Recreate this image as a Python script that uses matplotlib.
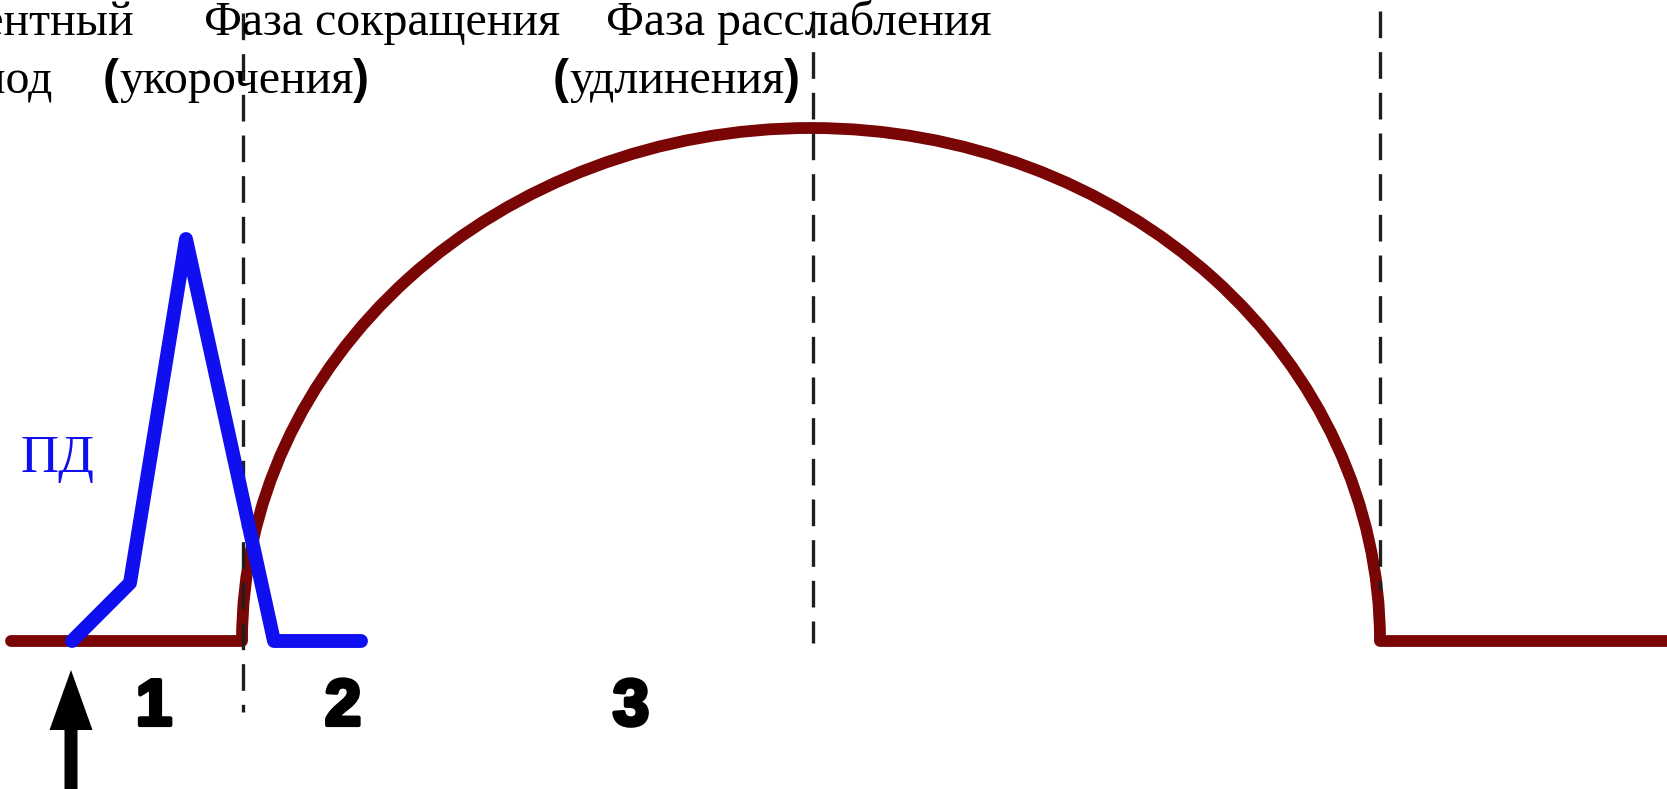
#!/usr/bin/env python3

import matplotlib; matplotlib.use('Agg')
import numpy as np
from matplotlib import pyplot as plt
from matplotlib import patheffects
from matplotlib.patches import Arc, FancyArrow

BROWN = '#7a0505'
BLUE = '#0f0ff0'

# Action potential (ПД), x = time, y = amplitude
ap_x = [72, 130, 186, 274, 361]
ap_y = [0, 58, 402, 0, 0]

# Contraction curve: flat, half-ellipse, flat
rest_left_x = [11, 242]
rest_right_x = [1380, 1680]
twitch_start = 242
twitch_end = 1380
twitch_peak = 513

# Phase borders (x, top, bottom)
border_x = [243, 813, 1380]
border_top = [628, 630, 630]
border_bottom = [-71, -2, 51]

# Phase numbers
phase_labels = ['1', '2', '3']
phase_x = [154, 343, 631]
phase_y = -67

stim_x = 71

fig = plt.figure(figsize=(16.67, 7.89), dpi=100)
ax = fig.add_axes([0, 0, 1, 1])
ax.set_xlim(0, 1667)
ax.set_ylim(-148, 641)
ax.axis('off')

# Contraction curve
for xs in (rest_left_x, rest_right_x):
    ax.plot(xs, [0, 0], color=BROWN, lw=8.5, solid_capstyle='round', zorder=2)
ax.add_patch(Arc(((twitch_start + twitch_end) / 2, 0),
                 twitch_end - twitch_start, 2 * twitch_peak,
                 theta1=0, theta2=180, color=BROWN, lw=8.5, zorder=2))

# Phase borders (drawn top -> bottom so the dash pattern starts at the top)
for x, top, bot in zip(border_x, border_top, border_bottom):
    ax.plot([x, x], [top, bot], color='#1e1e1e', lw=2.4,
            dashes=(8, 4.2), zorder=3)

# Action potential
ax.plot(ap_x, ap_y, color=BLUE, lw=10, solid_capstyle='round',
        solid_joinstyle='round', zorder=4)
ax.text(21, 169, 'ПД', color=BLUE, fontsize=38, family='Liberation Serif',
        ha='left', va='baseline')

# Phase numbers
thick = [patheffects.withStroke(linewidth=3, foreground='black')]
for lab, x in zip(phase_labels, phase_x):
    ax.text(x, phase_y, lab, fontsize=47, fontweight='bold',
            family='Liberation Sans', ha='center', va='center',
            path_effects=thick)

# Stimulus arrow
ax.add_patch(FancyArrow(stim_x, -160, 0, 131, width=13, head_width=43,
                        head_length=60, length_includes_head=True,
                        color='black', lw=0, zorder=5))

# Header text
serif = dict(fontsize=34.5, family='Liberation Serif', va='baseline')
ax.text(134, 606, 'Латентный', ha='right', **serif)
ax.text(52, 548, 'период', ha='right', **serif)
ax.text(204, 606, 'Фаза сокращения', ha='left', **serif)
ax.text(606, 606, 'Фаза расслабления', ha='left', **serif)

renderer = fig.canvas.get_renderer()
inv = ax.transData.inverted()
paren = dict(fontsize=34.5, family='Liberation Sans', fontweight='bold',
             va='baseline')
for x, word in [(103, 'укорочения'), (553, 'удлинения')]:
    t = ax.text(x, 548, '(', ha='left', **paren)
    ext = t.get_window_extent(renderer)
    x1 = inv.transform((ext.x1, ext.y0))[0]
    w = ax.text(x1, 548, word, ha='left', **serif)
    ext = w.get_window_extent(renderer)
    x2 = inv.transform((ext.x1, ext.y0))[0]
    ax.text(x2, 548, ')', ha='left', **paren)

plt.savefig('out.png', dpi=100)
plt.close()
